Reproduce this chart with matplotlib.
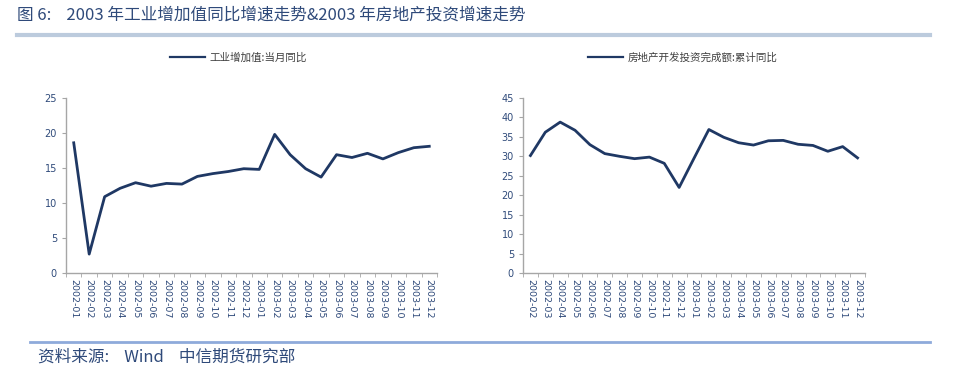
import matplotlib.pyplot as plt
import numpy as np
from matplotlib.lines import Line2D

plt.rcParams['font.family'] = ['Noto Sans CJK SC', 'DejaVu Sans']

# left chart: industrial value added, monthly yoy
ind_months = ['2002-01', '2002-02', '2002-03', '2002-04', '2002-05', '2002-06',
              '2002-07', '2002-08', '2002-09', '2002-10', '2002-11', '2002-12',
              '2003-01', '2003-02', '2003-03', '2003-04', '2003-05', '2003-06',
              '2003-07', '2003-08', '2003-09', '2003-10', '2003-11', '2003-12']
ind_yoy = [18.6, 2.7, 10.9, 12.1, 12.9, 12.4, 12.8, 12.7, 13.8, 14.2, 14.5, 14.9,
           14.8, 19.8, 16.9, 14.9, 13.7, 16.9, 16.5, 17.1, 16.3, 17.2, 17.9, 18.1]

# right chart: real estate investment, cumulative yoy
re_months = ind_months[1:]
re_yoy = [30.2, 36.2, 38.8, 36.7, 33.0, 30.7, 30.0, 29.4, 29.8, 28.2, 22.0,
          29.5, 36.9, 34.9, 33.5, 32.9, 34.0, 34.1, 33.1, 32.8, 31.3, 32.5, 29.6]

navy = '#1f3864'
tick_col = '#2f4a7a'
axis_col = '#a6a6a6'

W, H = 958, 372
fig = plt.figure(figsize=(W / 100, H / 100), dpi=100)


def px(x0, y0, x1, y1):
    return [x0 / W, 1 - y1 / H, (x1 - x0) / W, (y1 - y0) / H]


def draw(rect, labels, values, ymax, legend_label, leg_x):
    ax = fig.add_axes(rect)
    x = np.arange(len(labels))
    ax.plot(x, values, color=navy, lw=2)
    ax.set_xlim(-0.5, len(labels) - 0.5)
    ax.set_ylim(0, ymax)
    ax.set_yticks(np.arange(0, ymax + 1, 5))
    ax.set_xticks(x)
    ax.set_xticklabels(labels, rotation=270, fontsize=6.8, color=tick_col, family='DejaVu Sans')
    ax.set_xticks(np.arange(-0.5, len(labels)), minor=True)
    ax.tick_params(axis='x', which='major', length=0, pad=4)
    ax.tick_params(axis='x', which='minor', length=3, color=axis_col, direction='out')
    ax.tick_params(axis='y', length=3, color=axis_col, labelsize=7, labelcolor=tick_col)
    for lab in ax.get_yticklabels():
        lab.set_family('DejaVu Sans')
    for s in ['top', 'right']:
        ax.spines[s].set_visible(False)
    for s in ['left', 'bottom']:
        ax.spines[s].set_color(axis_col)
        ax.spines[s].set_linewidth(1)
    h = Line2D([], [], color=navy, lw=1.6)
    fig.legend([h], [legend_label], loc='center left',
               bbox_to_anchor=(leg_x / W, 1 - 58 / H), frameon=False,
               fontsize=7.6, handlelength=3.4, handletextpad=0.4,
               labelcolor='#404040')
    return ax


draw(px(66, 98, 437, 273), ind_months, ind_yoy, 25, '工业增加值:当月同比', 160)
draw(px(523, 98, 865, 273), re_months, re_yoy, 45, '房地产开发投资完成额:累计同比', 578)

# title and rules
fig.text(17 / W, 1 - 15 / H, '图 6:    2003 年工业增加值同比增速走势&2003 年房地产投资增速走势',
         fontsize=12, color='#2f4a7a', va='center', ha='left')
fig.add_artist(Line2D([17 / W, 930 / W], [1 - 35 / H, 1 - 35 / H], color='#bccbdd', lw=3))
fig.add_artist(Line2D([30 / W, 930 / W], [1 - 342 / H, 1 - 342 / H], color='#8eaadb', lw=2))
fig.text(38 / W, 1 - 357 / H, '资料来源:    Wind    中信期货研究部',
         fontsize=12, color='#2f4a7a', va='center', ha='left')

fig.savefig('out.png', dpi=100)
